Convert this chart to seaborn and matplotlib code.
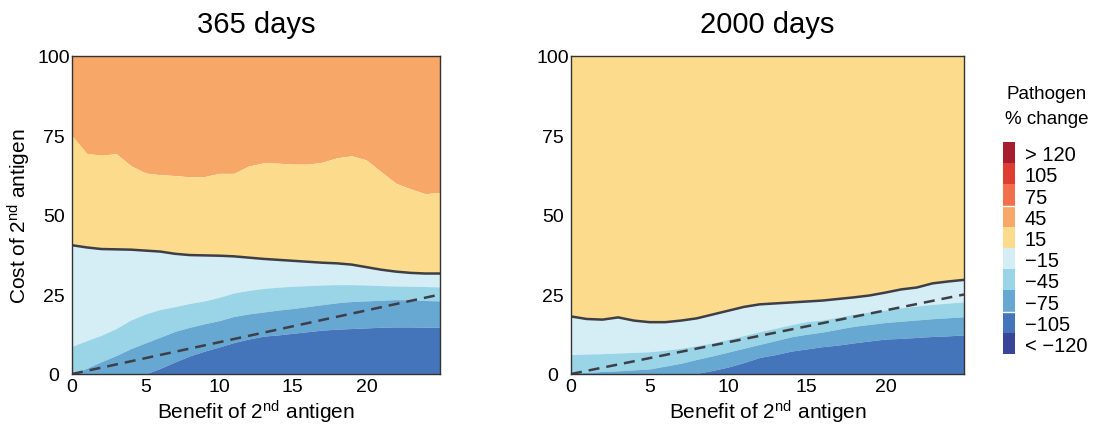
import numpy as np
import matplotlib
matplotlib.use("Agg")
import matplotlib.pyplot as plt
import seaborn as sns
from matplotlib.colors import ListedColormap, BoundaryNorm

sns.set_style("white")
plt.rcParams['font.family'] = ['Liberation Sans', 'DejaVu Sans']
plt.rcParams['mathtext.fontset'] = 'custom'
plt.rcParams['mathtext.rm'] = 'Liberation Sans'
plt.rcParams['mathtext.it'] = 'Liberation Sans:italic'
plt.rcParams['text.color'] = 'black'
plt.rcParams['axes.labelcolor'] = 'black'
plt.rcParams['xtick.color'] = 'black'
plt.rcParams['ytick.color'] = 'black'

# ---------------- data ----------------
benefit = list(range(0, 26))

# 365 days: boundaries between colour bands (cost values at each benefit)
d365_b45_15 = [74.9, 69.4, 68.8, 69.3, 65.5, 63.2, 62.7, 62.4, 62.0, 62.1, 63.1, 63.1, 65.4,
               66.4, 66.3, 66.0, 66.0, 66.6, 68.0, 68.6, 67.3, 63.6, 60.0, 58.2, 56.7, 57.1]
d365_zero = [40.5, 39.8, 39.3, 39.2, 39.1, 38.8, 38.5, 37.8, 37.4, 37.3, 37.2, 37.0, 36.6,
             36.2, 35.9, 35.6, 35.3, 35.0, 34.8, 34.4, 33.6, 32.8, 32.2, 31.8, 31.6, 31.6]
d365_m15_m45 = [8.7, 10.5, 12.2, 14.3, 17.0, 18.9, 20.3, 21.2, 22.2, 23.0, 24.1, 25.5, 26.3,
                26.9, 27.3, 27.6, 27.8, 28.0, 28.1, 28.1, 28.0, 27.8, 27.7, 27.6, 27.5, 27.4]
d365_m45_m75 = [0.0, 1.8, 3.9, 5.8, 8.0, 9.8, 11.6, 13.4, 14.7, 15.8, 16.8, 18.1, 18.9,
                19.5, 20.1, 20.6, 21.2, 21.8, 22.4, 22.8, 23.0, 23.2, 23.4, 23.3, 23.1, 23.0]
d365_m75_m105 = [0.0, 0.0, 0.0, 0.0, 0.0, 0.0, 1.8, 3.8, 5.7, 7.2, 8.5, 9.9, 11.0,
                 11.9, 12.3, 12.8, 13.3, 13.8, 14.1, 14.3, 14.5, 14.7, 14.8, 14.8, 14.7, 14.7]

# 2000 days
d2000_zero = [18.1, 17.3, 17.1, 17.8, 16.8, 16.3, 16.3, 16.8, 17.5, 18.7, 19.9, 21.1, 21.9,
              22.2, 22.5, 22.8, 23.1, 23.6, 24.1, 24.7, 25.6, 26.6, 27.2, 28.5, 29.1, 29.6]
d2000_m15_m45 = [6.1, 6.3, 6.4, 6.6, 6.8, 7.0, 7.5, 8.1, 8.9, 9.8, 10.9, 12.1, 13.3,
                 14.4, 15.5, 16.5, 17.0, 17.9, 18.8, 19.5, 20.1, 20.8, 21.4, 21.9, 22.3, 22.7]
d2000_m45_m75 = [0.3, 0.5, 0.8, 1.0, 1.3, 1.6, 2.5, 3.4, 4.6, 5.7, 6.9, 8.1, 9.3,
                 10.5, 11.7, 12.5, 13.2, 14.1, 15.0, 15.6, 16.2, 16.6, 17.0, 17.4, 17.7, 18.0]
d2000_m75_m105 = [0.0, 0.0, 0.0, 0.0, 0.0, 0.0, 0.0, 0.0, 0.2, 1.1, 2.2, 3.6, 5.2,
                  6.1, 7.2, 7.9, 8.6, 9.1, 9.8, 10.4, 11.0, 11.2, 11.5, 11.8, 12.0, 12.3]

# break-even (dashed) line: cost equals benefit
diag_x = [0, 25]
diag_y = [0, 25]

legend_labels = ["> 120", "105", "75", "45", "15", "\u221215", "\u221245", "\u221275", "\u2212105", "< \u2212120"]
legend_colors = ["#A51D2F", "#E03D32", "#F26F4B", "#F7A767", "#FDDB8C",
                 "#D5EEF5", "#9AD4E7", "#66A8D2", "#4475BA", "#3A4499"]
col = dict(zip(legend_labels, legend_colors))

x_ticks = [0, 5, 10, 15, 20]
y_ticks = [0, 25, 50, 75, 100]

# ---------------- figure ----------------
fig = plt.figure(figsize=(10.99, 4.27), dpi=100)
ax1 = fig.add_axes([72/1099, 1-375/427, 368/1099, 318/427])
ax2 = fig.add_axes([571/1099, 1-375/427, 393/1099, 318/427])

x = np.array(benefit, dtype=float)
line_c = "#3E3E46"

def panel(ax, bands, zero_line, title, ylabel):
    for lo, hi, c in bands:
        ax.fill_between(x, lo, hi, color=c, linewidth=0, zorder=1)
    sns.lineplot(x=x, y=np.array(zero_line), ax=ax, color=line_c, lw=1.8, zorder=3)
    sns.lineplot(x=diag_x, y=diag_y, ax=ax, color=line_c, lw=1.8, zorder=3,
                 linestyle=(0, (4.4, 2.8)))
    ax.set_xlim(0, 25)
    ax.set_ylim(0, 100)
    ax.set_xticks(x_ticks)
    ax.set_yticks(y_ticks)
    ax.tick_params(axis='both', length=0, labelsize=14, colors="black")
    ax.tick_params(axis='y', pad=13)
    ax.tick_params(axis='x', pad=3)
    for lab in ax.get_yticklabels():
        lab.set_horizontalalignment('center')
    for s in ax.spines.values():
        s.set_color("#333333")
        s.set_linewidth(1.0)
        s.set_zorder(5)
    ax.set_title(title, fontsize=21, pad=17, color="black")
    ax.set_xlabel(r"Benefit of 2$^{\mathrm{nd}}$ antigen", fontsize=15, labelpad=2)
    if ylabel:
        ax.set_ylabel(r"Cost of 2$^{\mathrm{nd}}$ antigen", fontsize=15, labelpad=3)
    else:
        ax.set_ylabel("")

top = np.full_like(x, 100.0)
bot = np.zeros_like(x)

bands365 = [
    (np.array(d365_b45_15), top, col["45"]),
    (np.array(d365_zero), np.array(d365_b45_15), col["15"]),
    (np.array(d365_m15_m45), np.array(d365_zero), col["\u221215"]),
    (np.array(d365_m45_m75), np.array(d365_m15_m45), col["\u221245"]),
    (np.array(d365_m75_m105), np.array(d365_m45_m75), col["\u221275"]),
    (bot, np.array(d365_m75_m105), col["\u2212105"]),
]
bands2000 = [
    (np.array(d2000_zero), top, col["15"]),
    (np.array(d2000_m15_m45), np.array(d2000_zero), col["\u221215"]),
    (np.array(d2000_m45_m75), np.array(d2000_m15_m45), col["\u221245"]),
    (np.array(d2000_m75_m105), np.array(d2000_m45_m75), col["\u221275"]),
    (bot, np.array(d2000_m75_m105), col["\u2212105"]),
]

panel(ax1, bands365, d365_zero, "365 days", True)
panel(ax2, bands2000, d2000_zero, "2000 days", False)

# ---------------- legend (discrete colour bar) ----------------
cax = fig.add_axes([1003/1099, 1-355/427, 12/1099, 212/427])
n = len(legend_colors)
cmap = ListedColormap(legend_colors[::-1])
norm = BoundaryNorm(np.arange(n + 1), n)
sm = matplotlib.cm.ScalarMappable(cmap=cmap, norm=norm)
cb = fig.colorbar(sm, cax=cax, ticks=np.arange(n) + 0.5)
cb.set_ticklabels(legend_labels[::-1])
cb.minorticks_off()
cb.outline.set_visible(False)
cax.tick_params(which='both', length=0, labelsize=14.5, pad=7, colors="black")
for b in (2, 7):
    cax.axhline(b, color="white", lw=1.0)
fig.text(1047/1099, 1-107/427, "Pathogen\n% change", ha="center", va="center",
         fontsize=13.5, linespacing=1.6, color="black")

fig.savefig("out.png", dpi=100)
